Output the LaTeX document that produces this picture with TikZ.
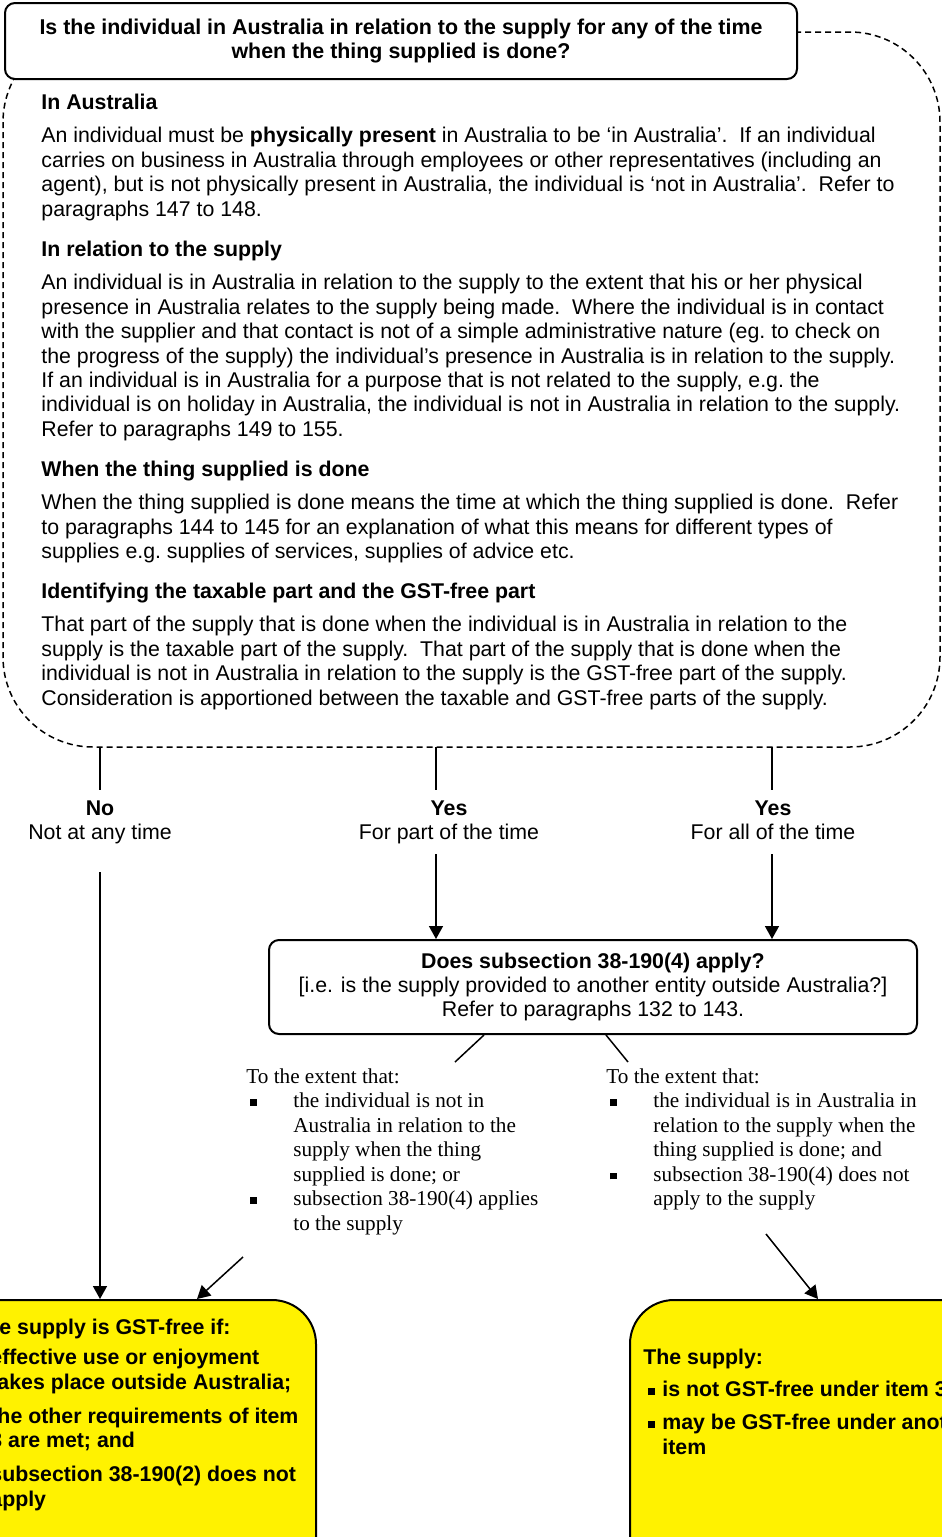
\documentclass[tikz,border=0pt]{standalone}
\usepackage{fontspec}
\setmainfont{Liberation Serif}
\setsansfont{Liberation Sans}
\usetikzlibrary{arrows.meta,positioning}
\newcommand\fsz{\fontsize{10.66}{12.2}\selectfont}
\newcommand\sqb{\rule[0.9pt]{3.2pt}{3.4pt}}
\tikzset{
  qbox/.style={draw, line width=1pt, rounded corners=5pt, fill=white, align=center, inner sep=0pt},
  ybox/.style={draw, line width=1pt, rounded corners=22pt, fill=yellow, inner sep=0pt},
  para/.style={anchor=north west, inner sep=0pt, align=left, font=\sffamily\fsz},
  head/.style={para, font=\sffamily\bfseries\fsz},
  ans/.style={anchor=north, align=center, inner xsep=0pt, inner ysep=5pt, font=\sffamily\fsz},
  cond/.style={anchor=north west, inner sep=0pt, align=left, font=\rmfamily\fontsize{10.6}{12.25}\selectfont},
  ytext/.style={anchor=north west, inner sep=0pt, align=left, font=\sffamily\bfseries\fsz},
  conn/.style={line width=0.75pt},
  arr/.style={line width=0.75pt, -{Triangle[length=6.5pt,width=7pt]}},
  frame/.style={dash pattern=on 3pt off 2pt, line width=0.75pt, rounded corners=45pt}
}
\begin{document}
\begin{tikzpicture}[x=0.5pt, y=-0.5pt]
\useasboundingbox (0,0) rectangle (942,1537);
\clip (0,0) rectangle (942,1537);

% question and its notes
\draw[frame] (3,32) rectangle (940,747);
\node[qbox, minimum width=396pt, minimum height=38pt, font=\sffamily\bfseries\fontsize{10.7}{12.2}\selectfont] (q1) at (401,41)
  {Is the individual in Australia in relation to the supply for any of the time\\when the thing supplied is done?};

\node[head] (h1) at (41,94) {In Australia};
\node[para] (p1) at (41,127) {An individual must be \textbf{physically present} in Australia to be ‘in Australia’.\ \ If an individual\\
carries on business in Australia through employees or other representatives (including an\\
agent), but is not physically present in Australia, the individual is ‘not in Australia’.\ \ Refer to\\
paragraphs 147 to 148.};
\node[head] (h2) at (41,241) {In relation to the supply};
\node[para] (p2) at (41,274) {An individual is in Australia in relation to the supply to the extent that his or her physical\\
presence in Australia relates to the supply being made.\ \ Where the individual is in contact\\
with the supplier and that contact is not of a simple administrative nature (eg.\ to check on\\
the progress of the supply) the individual’s presence in Australia is in relation to the supply.\\
If an individual is in Australia for a purpose that is not related to the supply, e.g.\ the\\
individual is on holiday in Australia, the individual is not in Australia in relation to the supply.\\
Refer to paragraphs 149 to 155.};
\node[head] (h3) at (41,461) {When the thing supplied is done};
\node[para] (p3) at (41,494) {When the thing supplied is done means the time at which the thing supplied is done.\ \ Refer\\
to paragraphs 144 to 145 for an explanation of what this means for different types of\\
supplies e.g.\ supplies of services, supplies of advice etc.};
\node[head] (h4) at (41,583) {Identifying the taxable part and the GST-free part};
\node[para] (p4) at (41,616) {That part of the supply that is done when the individual is in Australia in relation to the\\
supply is the taxable part of the supply.\ \ That part of the supply that is done when the\\
individual is not in Australia in relation to the supply is the GST-free part of the supply.\\
Consideration is apportioned between the taxable and GST-free parts of the supply.};

% answers
\coordinate (t1) at (100,747);
\coordinate (t2) at (436,747);
\coordinate (t3) at (772,747);
\node[ans] (a1) at (100,790) {\textbf{No}\\Not at any time};
\node[ans] (a2) at (449,790) {\textbf{Yes}\\For part of the time};
\node[ans] (a3) at (773,790) {\textbf{Yes}\\For all of the time};
\draw[conn] (t1) -- (t1 |- a1.north);
\draw[conn] (t2) -- (t2 |- a2.north);
\draw[conn] (t3) -- (t3 |- a3.north);

\node[qbox, minimum width=324pt, minimum height=47pt, font=\sffamily\fsz] (q2) at (593,987)
  {\textbf{Does subsection 38-190(4) apply?}\\{}[i.e. is the supply provided to another entity outside Australia?]\\Refer to paragraphs 132 to 143.};
\draw[arr] (t2 |- a2.south) -- (t2 |- q2.north);
\draw[arr] ([yshift=-2pt]t3 |- a3.south) -- (t3 |- q2.north);

% the two extents
\coordinate (c1) at (455,1062);
\coordinate (c2) at (628,1062);
\draw[conn] ([xshift=-54.5pt]q2.south) -- (c1);
\draw[conn] ([xshift=6.5pt]q2.south) -- (c2);
\node[cond] (e1) at (246,1068) {To the extent that:\\
\makebox[23.5pt][l]{\hspace{2pt}\sqb}the individual is not in\\
\hspace*{23.5pt}Australia in relation to the\\
\hspace*{23.5pt}supply when the thing\\
\hspace*{23.5pt}supplied is done; or\\
\makebox[23.5pt][l]{\hspace{2pt}\sqb}subsection 38-190(4) applies\\
\hspace*{23.5pt}to the supply};
\node[cond] (e2) at (606,1068) {To the extent that:\\
\makebox[23.5pt][l]{\hspace{2pt}\sqb}the individual is in Australia in\\
\hspace*{23.5pt}relation to the supply when the\\
\hspace*{23.5pt}thing supplied is done; and\\
\makebox[23.5pt][l]{\hspace{2pt}\sqb}subsection 38-190(4) does not\\
\hspace*{23.5pt}apply to the supply};

% outcomes
\node[ybox, minimum width=233pt, minimum height=170pt] (y1) at (83,1470) {};
\node[ybox, minimum width=240pt, minimum height=170pt] (y2) at (870,1470) {};
\coordinate (c3) at (243,1257);
\coordinate (c4) at (766,1234);
\draw[arr] ([yshift=-9pt]a1.south) -- (a1.south |- y1.north);
\draw[arr] (c3) -- ([xshift=57pt]y1.north);
\draw[arr] (c4) -- ([xshift=-26pt]y2.north);

\node[ytext] (g1) at (-27,1319) {The supply is GST-free if:\\[2.8pt]
\makebox[8.5pt][l]{\sqb}effective use or enjoyment\\
\hspace*{8.5pt}takes place outside Australia;\\[4.8pt]
\makebox[8.5pt][l]{\sqb}the other requirements of item\\
\hspace*{8.5pt}3 are met; and\\[4.8pt]
\makebox[8.5pt][l]{\sqb}subsection 38-190(2) does not\\
\hspace*{8.5pt}apply};
\node[ytext] (g2) at (643,1349) {The supply:\\[3.8pt]
\makebox[9.5pt][l]{\hspace{2.5pt}\sqb}is not GST-free under item 3\\[4.3pt]
\makebox[9.5pt][l]{\hspace{2.5pt}\sqb}may be GST-free under another\\
\hspace*{9.5pt}item};
\end{tikzpicture}
\end{document}
